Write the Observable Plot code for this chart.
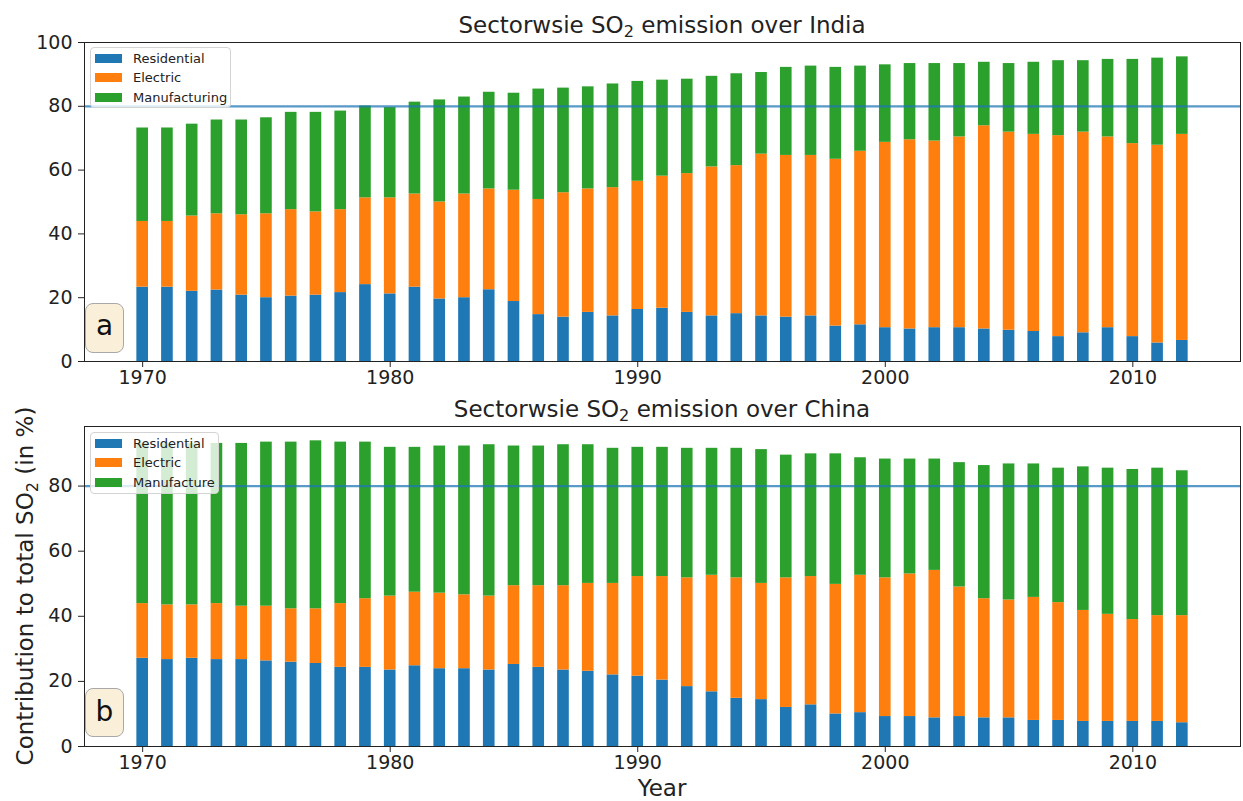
<!DOCTYPE html>
<html><head><meta charset="utf-8">
<script src="https://cdn.jsdelivr.net/npm/d3@7"></script>
<script src="https://cdn.jsdelivr.net/npm/@observablehq/plot@0.6"></script>
<style>
body{margin:0;background:#fff;}
#fig{position:relative;width:1243px;height:801px;font-family:"DejaVu Sans",sans-serif;color:#222;overflow:hidden;background:#fff}
.svgwrap{position:absolute;left:0}
.title,.xlabel{position:absolute;font-size:23px;line-height:1;white-space:nowrap;transform:translateX(-50%)}
.ylabel{position:absolute;font-size:23px;line-height:1;white-space:nowrap;transform:translate(-50%,-50%) rotate(-90deg)}
sub{font-size:0.7em;vertical-align:baseline;position:relative;top:0.28em;line-height:0}
.legend{position:absolute;background:rgba(255,255,255,0.8);border:1px solid #d4d4d4;border-radius:4px;box-sizing:border-box;font-size:13px}
.patch{position:absolute;left:4px;width:27px;height:9px}
.ltext{position:absolute;left:42px;line-height:13px;white-space:nowrap}
.tag{position:absolute;width:39px;background:#faefd9;border:1px solid #a8a8a8;border-radius:8px;box-sizing:border-box;font-size:28px;display:flex;align-items:center;justify-content:center;color:#111}
</style>
</head><body>
<div id="fig"></div>
<script>
const years = [1970,1971,1972,1973,1974,1975,1976,1977,1978,1979,1980,1981,1982,1983,1984,1985,1986,1987,1988,1989,1990,1991,1992,1993,1994,1995,1996,1997,1998,1999,2000,2001,2002,2003,2004,2005,2006,2007,2008,2009,2010,2011,2012];
const sectors = ["Residential","Electric","Manufacturing"];
const sectorColors = ["#1f77b4","#ff7f0e","#2ca02c"];
const indiaLegend = ["Residential","Electric","Manufacturing"];
const chinaLegend = ["Residential","Electric","Manufacture"];
const xTicks = [1970,1980,1990,2000,2010];
const indiaYTicks = [0,20,40,60,80,100];
const chinaYTicks = [0,20,40,60,80];
const threshold = 80;

// India sector shares (%)
const indiaResidential = [23.3,23.3,22.0,22.4,20.8,20.0,20.5,20.8,21.6,24.1,21.2,23.3,19.6,20.0,22.5,18.8,14.7,13.9,15.4,14.3,16.3,16.7,15.4,14.3,15.0,14.3,13.9,14.3,11.1,11.5,10.6,10.2,10.6,10.6,10.2,9.8,9.4,7.8,9.0,10.6,7.8,5.8,6.6];
const indiaElectric = [20.6,20.6,23.6,23.9,25.2,26.3,27.1,26.1,26.0,27.2,30.1,29.2,30.4,32.5,31.6,34.9,36.1,39.0,38.7,40.2,40.2,41.4,43.5,46.7,46.4,50.7,50.7,50.3,52.3,54.4,58.1,59.3,58.5,59.8,63.7,62.1,61.8,63.0,62.9,59.8,60.5,62.0,64.6];
const indiaManufacturing = [29.3,29.3,28.8,29.4,29.7,30.1,30.5,31.2,30.9,28.8,28.3,28.8,32.0,30.4,30.3,30.4,34.6,32.8,32.0,32.5,31.3,30.1,29.6,28.4,28.8,25.6,27.6,28.0,28.8,26.7,24.3,23.9,24.3,23.0,19.9,21.5,22.6,23.5,22.4,24.3,26.4,27.3,24.3];

// China sector shares (%)
const chinaResidential = [27.1,26.7,27.1,26.7,26.7,26.3,25.9,25.5,24.3,24.3,23.5,24.8,23.9,23.9,23.5,25.2,24.3,23.5,23.1,22.0,21.6,20.4,18.4,16.8,14.8,14.4,12.0,12.8,10.0,10.4,9.2,9.2,8.8,9.2,8.8,8.8,8.0,8.0,7.7,7.7,7.7,7.7,7.3];
const chinaElectric = [16.8,16.8,16.4,17.2,16.4,16.8,16.4,16.8,19.6,21.1,22.7,22.6,23.2,22.7,22.7,24.2,25.1,25.9,27.0,28.1,30.6,31.8,33.4,35.8,37.0,35.7,39.8,39.4,39.8,42.2,42.6,43.8,45.3,39.8,36.6,36.2,37.8,36.2,34.1,32.9,31.3,32.5,32.9];
const chinaManufacture = [49.1,49.5,49.5,49.2,50.0,50.4,51.2,51.6,49.6,48.1,45.7,44.5,45.2,45.7,46.5,42.9,42.9,43.3,42.6,41.5,39.7,39.7,39.8,39.0,39.8,41.1,37.7,37.7,40.1,36.1,36.5,35.3,34.2,38.2,40.9,41.8,41.0,41.3,44.1,44.9,46.1,45.3,44.5];

const fig = document.getElementById("fig");
const barHalf = 0.235;

function panel(series, yTop, yTicks, height, mt, mb) {
  const rows = [];
  years.forEach((yr, i) => {
    let c = 0;
    sectors.forEach((s, k) => {
      const v = series[k][i];
      rows.push({year: yr, sector: s, y1: c, y2: c + v});
      c += v;
    });
  });
  return Plot.plot({
    width: 1243, height,
    marginLeft: 84, marginRight: 3, marginTop: mt, marginBottom: mb,
    style: {fontFamily: "DejaVu Sans", fontSize: "19px", color: "#222", background: "transparent", overflow: "visible"},
    x: {domain: [1967.65, 2014.35]},
    y: {domain: [0, yTop]},
    color: {domain: sectors, range: sectorColors},
    marks: [
      Plot.rect(rows, {x1: d => d.year - barHalf, x2: d => d.year + barHalf, y1: "y1", y2: "y2", fill: "sector"}),
      Plot.ruleY([threshold], {stroke: "#1f77b4", strokeWidth: 2.2, strokeOpacity: 0.75}),
      Plot.frame({stroke: "#222"}),
      Plot.axisX({ticks: xTicks, tickFormat: d => String(d), tickSize: 6, tickPadding: 3, label: null}),
      Plot.axisY({ticks: yTicks, tickSize: 6, tickPadding: 6, label: null})
    ]
  });
}

function addSvg(svg, top) {
  const w = document.createElement("div");
  w.className = "svgwrap";
  w.style.top = top + "px";
  w.appendChild(svg);
  fig.appendChild(w);
}

addSvg(panel([indiaResidential, indiaElectric, indiaManufacturing], 100, indiaYTicks, 390, 42, 29), 0);
addSvg(panel([chinaResidential, chinaElectric, chinaManufacture], 98.3, chinaYTicks, 411, 36, 55), 390);

function addHTML(html) { fig.insertAdjacentHTML("beforeend", html); }

addHTML(`<div class="title" style="left:662px;top:13.5px">Sectorwsie SO<sub>2</sub> emission over India</div>`);
addHTML(`<div class="title" style="left:662px;top:397.5px">Sectorwsie SO<sub>2</sub> emission over China</div>`);
addHTML(`<div class="xlabel" style="left:662px;top:776.5px">Year</div>`);
addHTML(`<div class="ylabel" style="left:25px;top:586px">Contribution to total SO<sub>2</sub> (in %)</div>`);

function legend(labels, left, top, w, h, centers) {
  let inner = "";
  labels.forEach((lab, i) => {
    inner += `<div class="patch" style="top:${centers[i] - 4.5}px;background:${sectorColors[i]}"></div>`;
    inner += `<div class="ltext" style="top:${centers[i] - 6.5}px">${lab}</div>`;
  });
  addHTML(`<div class="legend" style="left:${left}px;top:${top}px;width:${w}px;height:${h}px">${inner}</div>`);
}
legend(indiaLegend, 90, 47, 141, 61, [10, 29.5, 49]);
legend(chinaLegend, 90, 432, 129, 62, [10, 29.5, 49]);

addHTML(`<div class="tag" style="left:85px;top:303px;height:50px"><span style="margin-top:-5px">a</span></div>`);
addHTML(`<div class="tag" style="left:85px;top:688px;height:49px"><span style="margin-top:-3px">b</span></div>`);
</script>
</body></html>
